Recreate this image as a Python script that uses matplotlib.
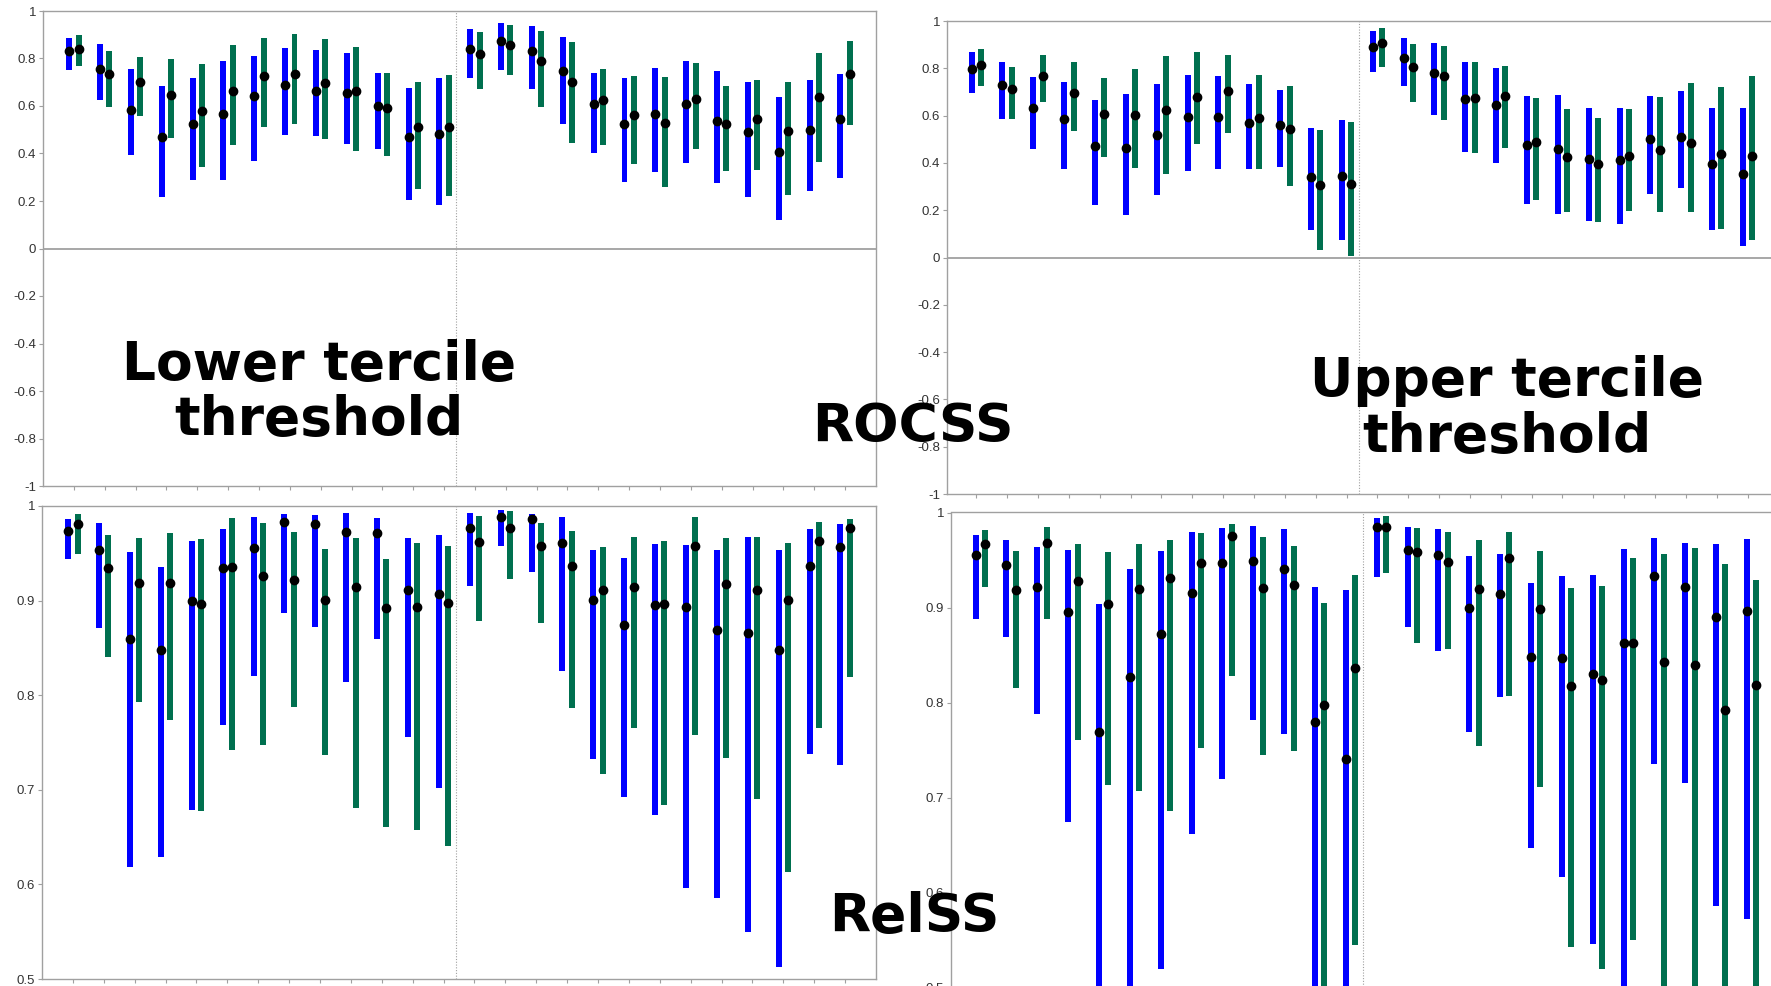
import matplotlib.pyplot as plt
import numpy as np

# ROCSS, lower tercile threshold (top left)
roc_low_blue_hi = [0.887, 0.863, 0.757, 0.685, 0.718, 0.791, 0.811, 0.845, 0.836, 0.825, 0.739, 0.674, 0.718,
                   0.924, 0.951, 0.935, 0.891, 0.739, 0.718, 0.760, 0.791, 0.747, 0.701, 0.637, 0.709, 0.734]
roc_low_blue_lo = [0.751, 0.624, 0.395, 0.216, 0.290, 0.290, 0.370, 0.480, 0.472, 0.442, 0.417, 0.203, 0.184,
                   0.718, 0.751, 0.672, 0.523, 0.403, 0.281, 0.322, 0.359, 0.275, 0.216, 0.121, 0.243, 0.297]
roc_low_blue_mid = [0.830, 0.754, 0.585, 0.470, 0.524, 0.566, 0.640, 0.688, 0.665, 0.653, 0.600, 0.468, 0.480,
                    0.840, 0.874, 0.833, 0.747, 0.607, 0.524, 0.568, 0.610, 0.535, 0.489, 0.407, 0.500, 0.547]
roc_low_green_hi = [0.901, 0.833, 0.806, 0.797, 0.775, 0.855, 0.888, 0.903, 0.883, 0.850, 0.739, 0.701, 0.729,
                    0.910, 0.942, 0.915, 0.869, 0.756, 0.727, 0.723, 0.781, 0.686, 0.710, 0.701, 0.823, 0.873]
roc_low_green_lo = [0.767, 0.597, 0.558, 0.465, 0.345, 0.434, 0.513, 0.523, 0.463, 0.410, 0.388, 0.251, 0.223,
                    0.672, 0.730, 0.596, 0.446, 0.434, 0.355, 0.261, 0.421, 0.325, 0.332, 0.226, 0.363, 0.521]
roc_low_green_mid = [0.842, 0.736, 0.699, 0.647, 0.579, 0.662, 0.725, 0.733, 0.696, 0.662, 0.592, 0.510, 0.510,
                     0.818, 0.857, 0.788, 0.699, 0.627, 0.564, 0.527, 0.629, 0.523, 0.545, 0.496, 0.636, 0.734]

# ROCSS, upper tercile threshold (top right)
roc_up_blue_hi = [0.867, 0.827, 0.762, 0.740, 0.666, 0.693, 0.733, 0.771, 0.767, 0.734, 0.709, 0.549, 0.583,
                  0.959, 0.929, 0.909, 0.827, 0.802, 0.682, 0.686, 0.634, 0.632, 0.683, 0.702, 0.632, 0.632]
roc_up_blue_lo = [0.697, 0.587, 0.458, 0.375, 0.223, 0.181, 0.264, 0.365, 0.375, 0.373, 0.382, 0.116, 0.075,
                  0.786, 0.726, 0.604, 0.444, 0.399, 0.228, 0.185, 0.153, 0.141, 0.270, 0.293, 0.115, 0.047]
roc_up_blue_mid = [0.796, 0.728, 0.631, 0.584, 0.470, 0.461, 0.516, 0.594, 0.594, 0.569, 0.562, 0.341, 0.344,
                   0.888, 0.844, 0.779, 0.672, 0.645, 0.477, 0.458, 0.416, 0.414, 0.501, 0.509, 0.395, 0.355]
roc_up_green_hi = [0.880, 0.806, 0.856, 0.826, 0.761, 0.798, 0.850, 0.868, 0.856, 0.771, 0.724, 0.537, 0.574,
                   0.970, 0.904, 0.895, 0.825, 0.808, 0.675, 0.627, 0.591, 0.627, 0.680, 0.738, 0.723, 0.767]
roc_up_green_lo = [0.727, 0.587, 0.658, 0.535, 0.427, 0.379, 0.352, 0.481, 0.525, 0.375, 0.303, 0.031, 0.007,
                   0.806, 0.658, 0.583, 0.443, 0.465, 0.242, 0.191, 0.149, 0.198, 0.192, 0.192, 0.120, 0.074]
roc_up_green_mid = [0.815, 0.711, 0.768, 0.696, 0.608, 0.603, 0.624, 0.678, 0.706, 0.591, 0.545, 0.306, 0.311,
                    0.907, 0.806, 0.767, 0.673, 0.682, 0.487, 0.427, 0.396, 0.430, 0.454, 0.485, 0.437, 0.431]

# RelSS, lower tercile threshold (bottom left)
rel_low_blue_hi = [0.986, 0.982, 0.951, 0.935, 0.963, 0.976, 0.988, 0.992, 0.991, 0.993, 0.987, 0.966, 0.969,
                   0.993, 0.996, 0.992, 0.988, 0.953, 0.945, 0.960, 0.959, 0.954, 0.967, 0.953, 0.976, 0.981]
rel_low_blue_lo = [0.944, 0.871, 0.618, 0.629, 0.679, 0.768, 0.820, 0.887, 0.872, 0.814, 0.859, 0.756, 0.702,
                   0.915, 0.958, 0.930, 0.826, 0.733, 0.692, 0.673, 0.596, 0.586, 0.550, 0.513, 0.738, 0.726]
rel_low_blue_mid = [0.974, 0.953, 0.859, 0.848, 0.900, 0.934, 0.956, 0.983, 0.981, 0.973, 0.971, 0.911, 0.907,
                    0.977, 0.988, 0.986, 0.961, 0.901, 0.874, 0.895, 0.893, 0.869, 0.866, 0.848, 0.937, 0.957]
rel_low_green_hi = [0.992, 0.969, 0.966, 0.971, 0.965, 0.987, 0.982, 0.972, 0.955, 0.966, 0.944, 0.961, 0.958,
                    0.989, 0.995, 0.982, 0.974, 0.957, 0.967, 0.963, 0.988, 0.966, 0.967, 0.961, 0.983, 0.986]
rel_low_green_lo = [0.949, 0.840, 0.793, 0.774, 0.678, 0.742, 0.747, 0.787, 0.737, 0.681, 0.661, 0.657, 0.641,
                    0.878, 0.923, 0.876, 0.786, 0.717, 0.765, 0.684, 0.758, 0.734, 0.690, 0.613, 0.765, 0.819]
rel_low_green_mid = [0.981, 0.934, 0.919, 0.919, 0.896, 0.936, 0.926, 0.922, 0.901, 0.914, 0.892, 0.893, 0.897,
                     0.962, 0.977, 0.958, 0.937, 0.911, 0.914, 0.896, 0.958, 0.918, 0.911, 0.901, 0.963, 0.977]

# RelSS, upper tercile threshold (bottom right); 0.45 = runs off the bottom of the axis
rel_up_blue_hi = [0.976, 0.971, 0.964, 0.960, 0.904, 0.941, 0.960, 0.979, 0.984, 0.986, 0.983, 0.922, 0.918,
                  0.994, 0.985, 0.983, 0.954, 0.956, 0.926, 0.933, 0.934, 0.962, 0.973, 0.968, 0.967, 0.972]
rel_up_blue_lo = [0.888, 0.869, 0.788, 0.674, 0.45, 0.45, 0.520, 0.662, 0.719, 0.782, 0.767, 0.45, 0.45,
                  0.932, 0.879, 0.854, 0.769, 0.806, 0.647, 0.616, 0.546, 0.45, 0.735, 0.715, 0.586, 0.572]
rel_up_blue_mid = [0.955, 0.945, 0.922, 0.895, 0.769, 0.827, 0.872, 0.915, 0.947, 0.949, 0.941, 0.780, 0.741,
                   0.985, 0.961, 0.955, 0.900, 0.914, 0.848, 0.847, 0.830, 0.863, 0.933, 0.922, 0.890, 0.896]
rel_up_green_hi = [0.982, 0.959, 0.985, 0.967, 0.958, 0.967, 0.971, 0.978, 0.988, 0.974, 0.965, 0.905, 0.934,
                   0.996, 0.984, 0.980, 0.971, 0.980, 0.960, 0.921, 0.923, 0.952, 0.956, 0.963, 0.946, 0.929]
rel_up_green_lo = [0.922, 0.815, 0.888, 0.761, 0.713, 0.707, 0.686, 0.752, 0.828, 0.745, 0.749, 0.45, 0.545,
                   0.936, 0.863, 0.856, 0.754, 0.807, 0.711, 0.543, 0.520, 0.550, 0.45, 0.45, 0.45, 0.45]
rel_up_green_mid = [0.967, 0.918, 0.968, 0.928, 0.904, 0.920, 0.931, 0.947, 0.975, 0.921, 0.924, 0.797, 0.836,
                    0.985, 0.958, 0.948, 0.919, 0.952, 0.898, 0.817, 0.824, 0.863, 0.843, 0.839, 0.792, 0.818]

roc_ticks = [-1, -0.8, -0.6, -0.4, -0.2, 0, 0.2, 0.4, 0.6, 0.8, 1]
rel_ticks = [0.5, 0.6, 0.7, 0.8, 0.9, 1]

W, H = 1771, 986
BLUE = '#0000ff'
GREEN = '#00704f'
FRAME = '#a0a0a0'


def px_axes(fig, left, top, width, height):
    return fig.add_axes([left / W, 1 - (top + height) / H, width / W, height / H])


def draw_panel(ax, blue, green, ylim, yticks, x0, zero_line):
    x = np.arange(1, len(blue[0]) + 1)
    for off, (hi, lo, mid), color in ((-0.152, blue, BLUE), (0.152, green, GREEN)):
        hi = np.array(hi)
        lo = np.array(lo)
        ax.bar(x + off, hi - lo, bottom=lo, width=0.194, color=color, zorder=2)
        ax.plot(x + off, mid, 'o', color='black', ms=6, zorder=3)
    if zero_line:
        ax.axhline(0, color='#909090', lw=1.1, zorder=1)
    ax.axvline(13.4, color='#a0a0a0', lw=0.8, ls=(0, (1, 1.5)), zorder=1)
    ax.set_xlim(x0, x0 + 27)
    ax.set_ylim(*ylim)
    ax.set_xticks(x)
    ax.set_xticklabels([])
    ax.set_yticks(yticks)
    ax.set_yticklabels([f'{v:g}' for v in yticks])
    for s in ax.spines.values():
        s.set_color(FRAME)
        s.set_linewidth(1.0)
    ax.tick_params(direction='out', length=3, width=0.8, color=FRAME,
                   labelcolor='#333333', labelsize=9.5, pad=2)
    for lab in ax.get_yticklabels():
        lab.set_fontfamily('Liberation Sans')


fig = plt.figure(figsize=(W / 100, H / 100), dpi=100)

ax = px_axes(fig, 43, 11, 833, 475)
draw_panel(ax, (roc_low_blue_hi, roc_low_blue_lo, roc_low_blue_mid),
           (roc_low_green_hi, roc_low_green_lo, roc_low_green_mid),
           (-1, 1), roc_ticks, 0.0, True)

ax = px_axes(fig, 947, 21, 833, 473)
draw_panel(ax, (roc_up_blue_hi, roc_up_blue_lo, roc_up_blue_mid),
           (roc_up_green_hi, roc_up_green_lo, roc_up_green_mid),
           (-1, 1), roc_ticks, 0.05, True)

ax = px_axes(fig, 42, 506, 834, 473)
draw_panel(ax, (rel_low_blue_hi, rel_low_blue_lo, rel_low_blue_mid),
           (rel_low_green_hi, rel_low_green_lo, rel_low_green_mid),
           (0.5, 1), rel_ticks, 0.0, False)

ax = px_axes(fig, 951, 512.5, 833, 475)
draw_panel(ax, (rel_up_blue_hi, rel_up_blue_lo, rel_up_blue_mid),
           (rel_up_green_hi, rel_up_green_lo, rel_up_green_mid),
           (0.5, 1), rel_ticks, 0.05, False)

big = dict(fontsize=38.5, fontweight='bold', family='DejaVu Sans', ha='center',
           va='baseline', color='black', zorder=10)
fig.text(319 / W, 1 - 380 / H, 'Lower tercile', **big)
fig.text(319 / W, 1 - 435 / H, 'threshold', **big)
fig.text(1507 / W, 1 - 396 / H, 'Upper tercile', **big)
fig.text(1507 / W, 1 - 451.7 / H, 'threshold', **big)
fig.text(913 / W, 1 - 441.7 / H, 'ROCSS', **big)
fig.text(914 / W, 1 - 931.7 / H, 'RelSS', **big)

fig.savefig('out.png', dpi=100, facecolor='white')
